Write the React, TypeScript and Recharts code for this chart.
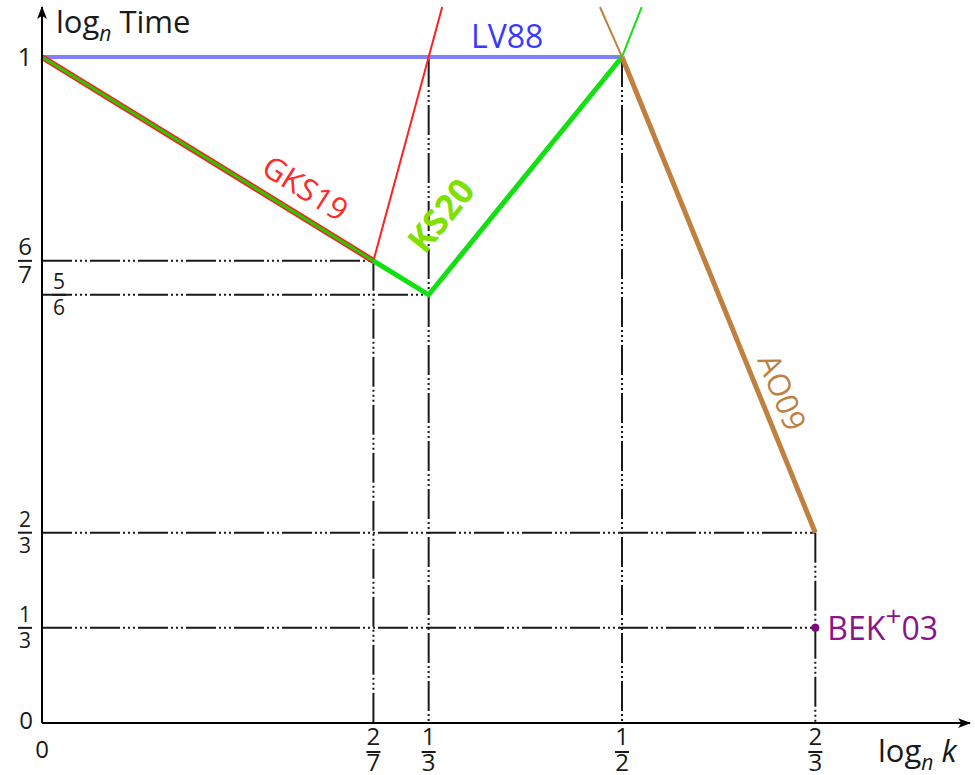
import { ComposedChart, Line, Scatter, XAxis, YAxis, ReferenceLine, ReferenceDot } from 'recharts'

// exponents: x = log_n k, y = log_n Time
const xTicks = [0, 2 / 7, 1 / 3, 1 / 2, 2 / 3]
const xTickLabels = ['0', '2/7', '1/3', '1/2', '2/3']
const yTicks = [0, 1 / 3, 2 / 3, 5 / 6, 6 / 7, 1]
const yTickLabels = ['0', '1/3', '2/3', '5/6', '6/7', '1']

const lv88 = [{ x: 0, y: 1 }, { x: 1 / 2, y: 1 }]
const gks19 = [{ x: 0, y: 1 }, { x: 2 / 7, y: 6 / 7 }, { x: 1 / 3, y: 1 }, { x: 0.345, y: 1.035 }]
const ks20 = [{ x: 0, y: 1 }, { x: 2 / 7, y: 6 / 7 }, { x: 1 / 3, y: 5 / 6 }, { x: 1 / 2, y: 1 }, { x: 0.517, y: 1.035 }]
const ao09 = [{ x: 0.481, y: 1.035 }, { x: 1 / 2, y: 1 }, { x: 2 / 3, y: 2 / 3 }]
const bek03 = [{ x: 2 / 3, y: 1 / 3 }]

// dash-dot helper lines: [x1, y1, x2, y2]
const guides = [
  [0, 6 / 7, 2 / 7, 6 / 7],
  [2 / 7, 6 / 7, 2 / 7, 0],
  [0, 5 / 6, 1 / 3, 5 / 6],
  [1 / 3, 1, 1 / 3, 0],
  [1 / 2, 1, 1 / 2, 0],
  [0, 2 / 3, 2 / 3, 2 / 3],
  [2 / 3, 2 / 3, 2 / 3, 0],
  [0, 1 / 3, 2 / 3, 1 / 3],
]

// the part of the y axis above 2/3 is stretched
const BREAK = 2 / 3
const STRETCH = 5
const warp = (v: number) => (v <= BREAK ? v : BREAK + (v - BREAK) * STRETCH)
const unwarp = (w: number) => (w <= BREAK ? w : BREAK + (w - BREAK) / STRETCH)

function brokenScale(dom: number[] = [0, 1], rng: number[] = [0, 1]): any {
  let d = dom.slice()
  let r = rng.slice()
  const s: any = (v: number) => {
    const w0 = warp(d[0])
    const w1 = warp(d[d.length - 1])
    return r[0] + ((warp(v) - w0) / (w1 - w0)) * (r[r.length - 1] - r[0])
  }
  s.domain = (x?: number[]) => {
    if (!x) return d.slice()
    d = x.slice()
    return s
  }
  s.range = (x?: number[]) => {
    if (!x) return r.slice()
    r = x.slice()
    return s
  }
  s.invert = (p: number) => {
    const w0 = warp(d[0])
    const w1 = warp(d[d.length - 1])
    return unwarp(w0 + ((p - r[0]) / (r[r.length - 1] - r[0])) * (w1 - w0))
  }
  s.copy = () => brokenScale(d, r)
  s.ticks = () => yTicks
  return s
}

const INK = '#1a1a1a'
const DASH = '30 3 2 3 2 3 2 3'

// stacked fraction: numerator baseline at cy-up, denominator baseline at cy+down
function Frac({ cx, cy, label, size, up = 6, down = 20 }: { cx: number; cy: number; label: string; size: number; up?: number; down?: number }) {
  const [num, den] = label.split('/')
  if (!den) {
    return (
      <text x={cx} y={cy + size * 0.36} textAnchor="middle" fontSize={size} fill={INK}>
        {num}
      </text>
    )
  }
  return (
    <g>
      <text x={cx} y={cy - up} textAnchor="middle" fontSize={size} fill={INK}>{num}</text>
      <rect x={cx - 7} y={cy - 1} width={14} height={2} fill={INK} />
      <text x={cx} y={cy + down} textAnchor="middle" fontSize={size} fill={INK}>{den}</text>
    </g>
  )
}

function pick(ticks: number[], labels: string[], v: number) {
  const i = ticks.findIndex(t => Math.abs(t - v) < 1e-9)
  return i < 0 ? '' : labels[i]
}

function XTick({ x, y, payload }: any) {
  const label = pick(xTicks, xTickLabels, payload.value)
  if (label === '0') return <Frac cx={x} cy={y + 26} label={label} size={24} />
  return <Frac cx={x} cy={y + 29} label={label} size={24} up={7} down={19} />
}

function YTick({ x, y, payload }: any) {
  const label = pick(yTicks, yTickLabels, payload.value)
  // 5/6 sits inside the plot, just under 6/7
  const cx = label === '5/6' ? x + 17 : x - 17
  if (label === '0') return <Frac cx={x - 16} cy={y - 3} label={label} size={24} />
  if (label === '1') return <Frac cx={cx} cy={y} label={label} size={25} />
  if (label === '6/7') return <Frac cx={cx} cy={y} label={label} size={24} up={6} down={22} />
  return <Frac cx={cx} cy={y} label={label} size={21} up={6} down={20} />
}

function BekShape({ cx, cy }: any) {
  return (
    <g>
      <circle cx={cx} cy={cy} r={4} fill="#7a0a7a" />
      <text x={cx + 12} y={cy + 12} fontSize={32} fill="#8a148a">
        BEK<tspan fontSize={28} dy={-14}>+</tspan><tspan dy={14}>03</tspan>
      </text>
    </g>
  )
}

export default function App() {
  return (
    <div style={{ position: 'absolute', left: 0, top: 0, background: '#fff', fontFamily: '"Open Sans", sans-serif' }}>
      <ComposedChart width={975} height={775} margin={{ top: 7, right: 5, bottom: 51, left: 41 }}>
        <defs>
          <marker id="axisArrow" viewBox="0 0 12 10" refX="11" refY="5" markerWidth="13" markerHeight="11"
            markerUnits="userSpaceOnUse" orient="auto-start-reverse">
            <path d="M0,0.5 L12,5 L0,9.5 L3,5 z" fill="#000" />
          </marker>
        </defs>
        <XAxis
          dataKey="x"
          type="number"
          domain={[0, 0.8]}
          ticks={xTicks}
          interval={0}
          height={1}
          tickSize={0}
          tickMargin={0}
          tick={<XTick />}
          axisLine={{ stroke: '#000', strokeWidth: 2, markerEnd: 'url(#axisArrow)' }}
          tickLine={false}
        />
        <YAxis
          dataKey="y"
          type="number"
          domain={[0, 1.035]}
          scale={brokenScale()}
          ticks={yTicks}
          interval={0}
          width={1}
          tickSize={0}
          tickMargin={0}
          tick={<YTick />}
          axisLine={{ stroke: '#000', strokeWidth: 2, markerStart: 'url(#axisArrow)' }}
          tickLine={false}
        />
        {guides.map((g, i) => (
          <ReferenceLine
            key={i}
            segment={[{ x: g[0], y: g[1] }, { x: g[2], y: g[3] }]}
            stroke={INK}
            strokeWidth={2}
            strokeDasharray={DASH}
            ifOverflow="visible"
          />
        ))}

        <Line data={lv88} dataKey="y" stroke="#8080ff" strokeWidth={4} dot={false} isAnimationActive={false} />
        <Line data={gks19.slice(0, 2)} dataKey="y" stroke="#ff2020" strokeWidth={6} dot={false} isAnimationActive={false} />
        <Line data={gks19} dataKey="y" stroke="#ff2020" strokeWidth={2} dot={false} isAnimationActive={false} />
        <Line data={ks20.slice(0, 2)} dataKey="y" stroke="#22cc00" strokeWidth={3} dot={false} isAnimationActive={false} />
        <Line data={ks20.slice(1, 4)} dataKey="y" stroke="#11e011" strokeWidth={5} dot={false} isAnimationActive={false} />
        <Line data={ks20.slice(3)} dataKey="y" stroke="#11e011" strokeWidth={2} dot={false} isAnimationActive={false} />
        <Line data={ao09.slice(0, 2)} dataKey="y" stroke="#c0803f" strokeWidth={2} dot={false} isAnimationActive={false} />
        <Line data={ao09.slice(1)} dataKey="y" stroke="#c0803f" strokeWidth={5} dot={false} isAnimationActive={false} />
        <Scatter data={bek03} dataKey="y" shape={<BekShape />} isAnimationActive={false} />

        <ReferenceDot x={0.401} y={1.014} r={0} ifOverflow="visible"
          label={{ value: 'LV88', position: 'center', fill: '#3a3aff', fontSize: 32 }} />
        <ReferenceDot x={0.227} y={0.908} r={0} ifOverflow="visible"
          label={{ value: 'GKS19', position: 'center', angle: 32, fill: '#ff2a2a', fontSize: 31 }} />
        <ReferenceDot x={0.344} y={0.889} r={0} ifOverflow="visible"
          label={{ value: 'KS20', position: 'center', angle: -51, fill: '#80e000', fontSize: 35, fontWeight: 700 }} />
        <ReferenceDot x={0.638} y={0.765} r={0} ifOverflow="visible"
          label={{ value: 'AO09', position: 'center', angle: 68, fill: '#c0803f', fontSize: 31 }} />

        <text x={56} y={33} fontSize={31} fill={INK}>
          log<tspan fontSize={21} fontStyle="italic" dy={8}>n</tspan>
          <tspan dx={8} dy={-8}>Time</tspan>
        </text>
        <text x={878} y={762} fontSize={31} fill={INK}>
          log<tspan fontSize={21} fontStyle="italic" dy={8}>n</tspan>
          <tspan dx={8} dy={-8} fontStyle="italic">k</tspan>
        </text>
      </ComposedChart>
    </div>
  )
}
